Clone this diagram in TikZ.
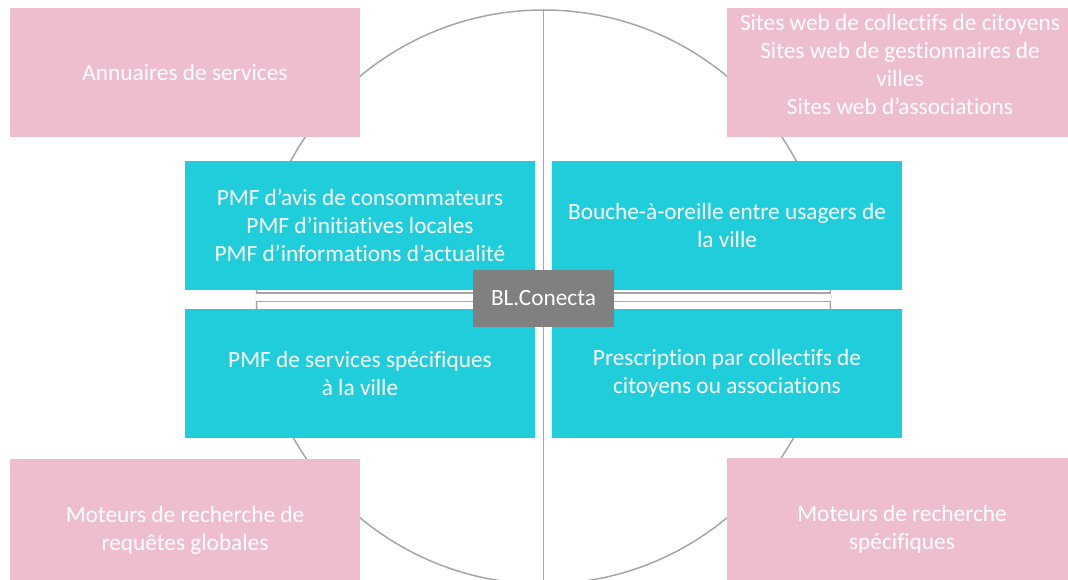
\documentclass[tikz,border=0pt]{standalone}
\usepackage{fontspec}
\setmainfont{Carlito}[Ligatures=NoCommon]
\definecolor{pinkc}{HTML}{EEBECF}
\definecolor{cyanc}{HTML}{20CDDB}
\definecolor{grayc}{HTML}{808080}
\definecolor{linec}{HTML}{A6A6A6}
\newcommand\myfs{\fontsize{23.3}{28}\selectfont}
\begin{document}
\begin{tikzpicture}[x=1pt,y=-1pt,
  boxbase/.style={minimum width=350pt, minimum height=129pt, inner sep=0pt, text=white, align=center, font=\myfs},
  pinkbox/.style={boxbase, fill=pinkc},
  lowpink/.style={pinkbox, minimum height=143pt},
  cyanbox/.style={boxbase, fill=cyanc},
  centerbox/.style={fill=grayc, minimum width=141pt, minimum height=57pt, inner sep=0pt, text=white, font=\myfs},
  lbl/.style={text=white, align=center, font=\myfs, inner sep=0pt},
  ring/.style={circle, draw=linec, line width=1.5pt, minimum size=574pt, inner sep=0pt},
  axis/.style={draw=linec, line width=1.5pt}
]
\useasboundingbox (0,0) rectangle (1068,580);
\clip (0,0) rectangle (1068,580);
\fill[white] (0,0) rectangle (1068,580);

% circle and diameters
\node[ring] (C) at (543.5,297) {};
\draw[axis] (C.north) -- (C.south);
\draw[draw=linec, line width=1.2pt, double=white, double distance=7pt] (C.west) -- (C.east);

% pink boxes
\node[pinkbox] (pTL) at (185,72.5) {Annuaires de services};
\node[pinkbox] (pTR) at (902,72.5) {};
\node[lbl] (tTR) at (900,64) {Sites web de collectifs de citoyens\\Sites web de gestionnaires de\\villes\\Sites web d’associations};
\node[lowpink] (pBL) at (185,530.5) {Moteurs de recherche de\\requêtes globales};
\node[lowpink] (pBR) at (902,529.5) {Moteurs de recherche\\spécifiques};

% cyan boxes
\node[cyanbox] (cTL) at (360,225.5) {PMF d’avis de consommateurs\\PMF d’initiatives locales\\PMF d’informations d’actualité};
\node[cyanbox] (cTR) at (727,225.5) {Bouche-à-oreille entre usagers de\\la ville};
\node[cyanbox] (cBL) at (360,373) {PMF de services spécifiques\\à la ville};
\node[cyanbox] (cBR) at (727,373) {Prescription par collectifs de\\citoyens ou associations};

% center
\node[centerbox] (BL) at (543.5,298.5) {BL.Conecta};
\end{tikzpicture}
\end{document}
